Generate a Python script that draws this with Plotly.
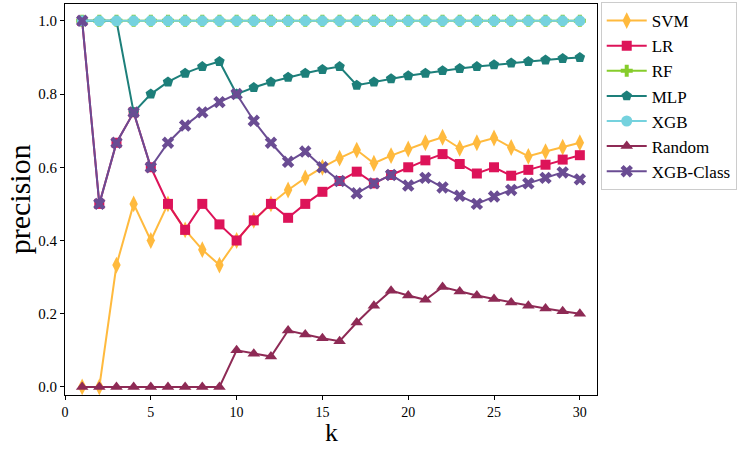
import plotly.graph_objects as go

k = list(range(1, 31))

svm = [0, 0, 0.333, 0.5, 0.4, 0.5, 0.429, 0.375, 0.333, 0.4,
       0.455, 0.5, 0.538, 0.571, 0.6, 0.625, 0.647, 0.611, 0.632, 0.65,
       0.667, 0.682, 0.652, 0.667, 0.68, 0.654, 0.630, 0.643, 0.655, 0.667]
lr = [1.0, 0.5, 0.667, 0.75, 0.6, 0.5, 0.429, 0.5, 0.444, 0.4,
      0.455, 0.5, 0.462, 0.5, 0.533, 0.5625, 0.588, 0.556, 0.579, 0.6,
      0.619, 0.636, 0.609, 0.583, 0.6, 0.577, 0.593, 0.607, 0.621, 0.633]
rf = [1.0] * 30
mlp = [1.0, 1.0, 1.0, 0.75, 0.8, 0.833, 0.857, 0.875, 0.889, 0.8,
       0.818, 0.833, 0.846, 0.857, 0.867, 0.875, 0.824, 0.833, 0.842, 0.85,
       0.857, 0.864, 0.870, 0.875, 0.88, 0.885, 0.889, 0.893, 0.897, 0.9]
xgb = [1.0] * 30
rand = [0, 0, 0, 0, 0, 0, 0, 0, 0, 0.1,
        0.091, 0.083, 0.154, 0.143, 0.133, 0.125, 0.176, 0.222, 0.263, 0.25,
        0.238, 0.273, 0.261, 0.25, 0.24, 0.231, 0.222, 0.214, 0.207, 0.2]
xgbc = [1.0, 0.5, 0.667, 0.75, 0.6, 0.667, 0.714, 0.75, 0.778, 0.8,
        0.727, 0.667, 0.615, 0.643, 0.6, 0.5625, 0.529, 0.556, 0.579, 0.55,
        0.571, 0.545, 0.522, 0.5, 0.52, 0.538, 0.556, 0.571, 0.586, 0.567]

series = [
    ("SVM", svm, "#FFBA3E", "diamond-tall", 12),
    ("LR", lr, "#DD1359", "square", 10),
    ("RF", rf, "#86CC2B", "cross", 10),
    ("MLP", mlp, "#1D7F7A", "pentagon", 11),
    ("XGB", xgb, "#75D2DE", "circle", 11),
    ("Random", rand, "#8E2A55", "triangle-up", 11),
    ("XGB-Class", xgbc, "#6A4C93", "x", 11),
]

fig = go.Figure()
for name, vals, color, sym, size in series:
    fig.add_trace(go.Scatter(
        x=k, y=vals, name=name, mode="lines+markers",
        line=dict(color=color, width=2),
        marker=dict(symbol=sym, size=size, color=color, line=dict(width=0)),
    ))

font = "Liberation Serif, Times New Roman, serif"
fig.update_layout(
    width=747, height=449,
    margin=dict(l=65, r=150, t=2, b=54),
    plot_bgcolor="white", paper_bgcolor="white",
    font=dict(family=font, size=14, color="black"),
    showlegend=True,
    legend=dict(x=1.007, y=1.005, xanchor="left", yanchor="top",
                bordercolor="#CCCCCC", borderwidth=1, bgcolor="white",
                font=dict(family=font, size=17), tracegroupgap=0,
                itemwidth=40),
    xaxis=dict(range=[0, 31], tickvals=[0, 5, 10, 15, 20, 25, 30],
               automargin=False,
               showgrid=False, zeroline=False, showline=True, linecolor="black",
               linewidth=1.2, mirror=True, ticks="outside", ticklen=4,
               tickcolor="black", tickfont=dict(size=14)),
    yaxis=dict(range=[-0.022, 1.046], tickvals=[0, 0.2, 0.4, 0.6, 0.8, 1.0],
               tickformat=".1f", automargin=False,
               showgrid=False, zeroline=False, showline=True, linecolor="black",
               linewidth=1.2, mirror=True, ticks="outside", ticklen=4,
               tickcolor="black", tickfont=dict(size=15)),
    annotations=[
        dict(text="k", xref="paper", yref="paper", x=0.5, y=-0.1374,
             xanchor="center", yanchor="bottom", showarrow=False,
             font=dict(size=26, family=font)),
        dict(text="precision", xref="paper", yref="paper", x=-0.085, y=0.5,
             xanchor="center", yanchor="middle", showarrow=False, textangle=-90,
             font=dict(size=30, family=font)),
    ],
)

fig.write_html("out.html", config={"displayModeBar": False},
               post_script="document.body.style.margin='0';document.body.style.overflow='hidden';")
